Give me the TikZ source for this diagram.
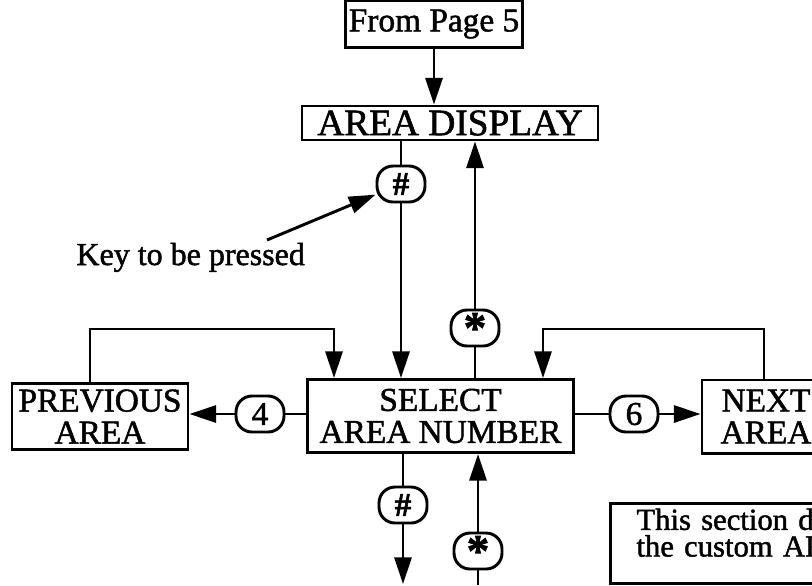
\documentclass[tikz,border=0pt]{standalone}
\usepackage{fontspec}
\setmainfont{Liberation Serif}[FakeBold=1.5]
\usetikzlibrary{arrows.meta}
\newcommand{\asterisco}{\raisebox{-0.32em}{\fontsize{17}{17}\selectfont\bfseries *}}

\begin{document}
\begin{tikzpicture}[x=0.375pt, y=-0.375pt, line width=1.1pt,
  caixa/.style={draw, rectangle, inner sep=1pt, align=center, font=\fontsize{12.5}{12}\selectfont},
  tecla/.style={draw, rounded corners=6pt, minimum width=18pt, minimum height=13.5pt, inner sep=0pt, font=\fontsize{12.5}{12}\selectfont},
  seta/.style={-{Triangle[length=10pt,width=6.4pt]}}]
\useasboundingbox (0,0) rectangle (812,585);
\clip (0,0) rectangle (812,585);

  % caixas
  \node[caixa, minimum width=66.4pt, minimum height=17.3pt] (frompage) at (434,24) {From Page 5};
  \node[caixa, minimum width=111pt, minimum height=12.75pt, font=\fontsize{14}{14}\selectfont] (areadisp) at (450,123) {AREA DISPLAY};
  \node[caixa, minimum width=100pt, minimum height=27.4pt] (select) at (440.5,416) {SELECT\\AREA NUMBER};
  \node[caixa, minimum width=66pt, minimum height=25pt] (prev) at (100,416.5) {PREVIOUS\\AREA};
  \node[caixa, minimum width=48pt, minimum height=27.4pt] (next) at (766,416.5) {NEXT\\AREA};
  \node[draw, anchor=north west, text width=100pt, inner xsep=9.75pt, inner ysep=1.9pt, align=left,
        font=\fontsize{11.5}{10}\selectfont] (nota) at (609,502) {This section di\\the custom AR\rule[-8.25pt]{0pt}{0pt}};

  % teclas
  \node[tecla, font=\fontsize{12.5}{12}\selectfont\bfseries] (hash1) at (401,184) {\#};
  \node[tecla] (star1) at (475,328) {\asterisco};
  \node[tecla] (oval4) at (260,414) {4};
  \node[tecla] (oval6) at (634,414) {6};
  \node[tecla, font=\fontsize{12.5}{12}\selectfont\bfseries] (hash2) at (403,505) {\#};
  \node[tecla] (star2) at (478,551) {\asterisco};

  % legenda
  \node[anchor=base west, inner sep=0pt, font=\fontsize{12}{12}\selectfont] (legenda) at (75,265) {Key to be pressed};
  \coordinate (rabo) at (267,240);
  \draw[seta] (rabo) -- (hash1);

  % ligações verticais
  \draw[seta] (frompage) -- (frompage |- areadisp.north);
  \draw (areadisp.south -| hash1) -- (hash1);
  \draw[seta] (hash1) -- (hash1 |- select.north);
  \draw[seta] (star1) -- (star1 |- areadisp.south);
  \draw (select.north -| star1) -- (star1);

  % voltas
  \coordinate (cantoE) at (90,329);
  \coordinate (cantoE2) at (334,329);
  \coordinate (cantoD) at (764,329);
  \coordinate (cantoD2) at (543,329);
  \draw[seta] (prev.north -| cantoE) -- (cantoE) -- (cantoE2) -- (cantoE2 |- select.north);
  \draw[seta] (next.north -| cantoD) -- (cantoD) -- (cantoD2) -- (cantoD2 |- select.north);

  % ligações laterais
  \draw (select.west |- oval4) -- (oval4);
  \draw[seta] (oval4) -- (prev.east |- oval4);
  \draw (select.east |- oval6) -- (oval6);
  \draw[seta] (oval6) -- (next.west |- oval6);

  % saídas por baixo
  \coordinate (saida) at (403,584);
  \coordinate (entrada) at (478,585);
  \draw (select.south -| hash2) -- (hash2);
  \draw[seta] (hash2) -- (saida);
  \draw (entrada) -- (star2);
  \draw[seta] (star2) -- (select.south -| star2);

\end{tikzpicture}
\end{document}
